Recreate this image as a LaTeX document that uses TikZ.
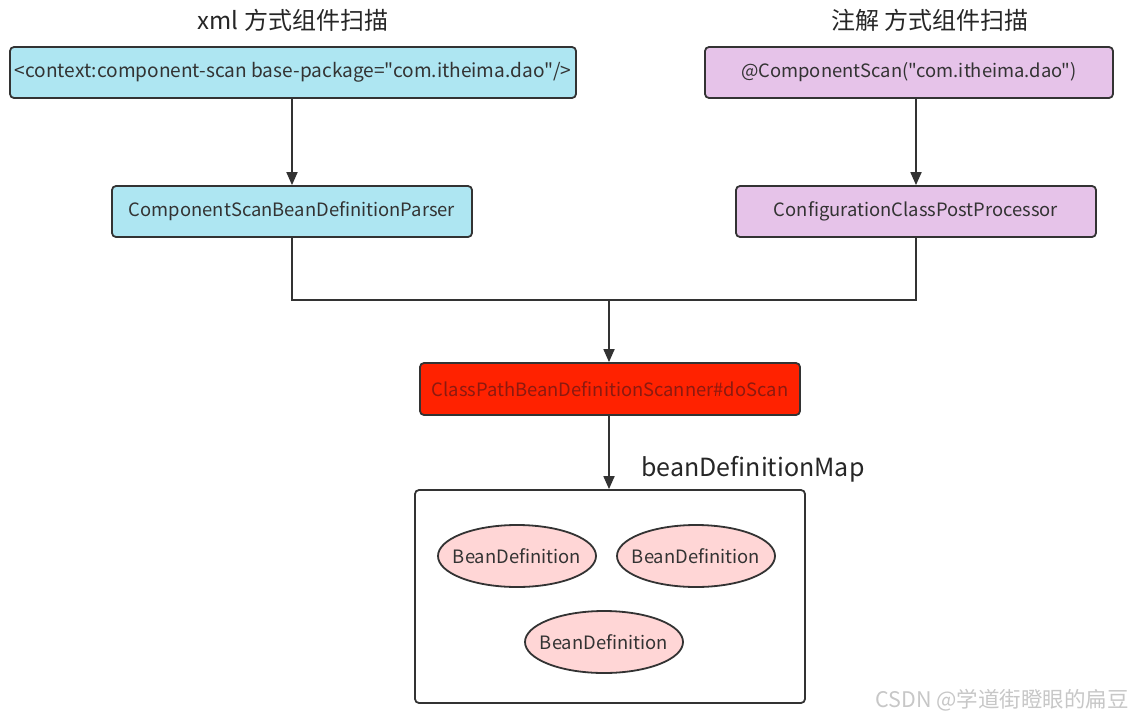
\documentclass[tikz,border=0pt]{standalone}
\usepackage{fontspec}
\newfontfamily\cjk{Noto Sans CJK SC}
\usetikzlibrary{arrows.meta,shapes.geometric}
\definecolor{cyanfill}{HTML}{AEE6F2}
\definecolor{purplefill}{HTML}{E6C3E9}
\definecolor{redfill}{HTML}{FF2200}
\definecolor{redtext}{HTML}{8B1A10}
\definecolor{pinkfill}{HTML}{FFD6D6}
\definecolor{linecol}{HTML}{333333}
\definecolor{textcol}{HTML}{333333}
\newcommand{\beantext}[1]{\makebox[110pt][c]{#1}}
\begin{document}
\begin{tikzpicture}[x=1pt,y=-1pt,
  boxstyle/.style={draw=linecol,line width=1.8pt,rounded corners=4pt,inner sep=0pt,
    text=textcol,font=\cjk\fontsize{18.4}{21}\selectfont},
  beanstyle/.style={ellipse,draw=linecol,line width=1.8pt,fill=pinkfill,minimum width=158pt,
    minimum height=62pt,inner sep=0pt,text=textcol,font=\cjk\fontsize{18.4}{21}\selectfont},
  titlestyle/.style={text=black!85,font=\cjk\fontsize{24}{28}\selectfont},
  conn/.style={draw=linecol,line width=1.8pt},
  arr/.style={conn,-{Triangle[length=13pt,width=11pt]}}
]
\useasboundingbox (0,0) rectangle (1135,720);
\node[titlestyle] (t1) at (293,20) {xml 方式组件扫描};
\node[titlestyle] (t2) at (930,20) {注解 方式组件扫描};

\node[boxstyle,fill=cyanfill,minimum width=566pt,minimum height=51pt,font=\cjk\fontsize{19.1}{22}\selectfont] (b1) at (293,72.5) {<context:component-scan base-package="com.itheima.dao"/>};
\node[boxstyle,fill=purplefill,minimum width=408pt,minimum height=51pt] (b2) at (909,72.5) {@ComponentScan("com.itheima.dao")};
\node[boxstyle,fill=cyanfill,minimum width=360pt,minimum height=51pt] (b3) at (292,211.5) {ComponentScanBeanDefinitionParser};
\node[boxstyle,fill=purplefill,minimum width=360pt,minimum height=51pt] (b4) at (916,211.5) {ConfigurationClassPostProcessor};
\node[boxstyle,fill=redfill,text=redtext,minimum width=380pt,minimum height=52pt] (b5) at (610,389) {ClassPathBeanDefinitionScanner\#doScan};
\node[boxstyle,fill=white,minimum width=390pt,minimum height=213pt] (b6) at (610,596.5) {};
\node[titlestyle,font=\cjk\fontsize{25}{29}\selectfont,anchor=west] (lbl) at (638,469) {beanDefinitionMap};

\node[beanstyle] (e1) at (517,556) {\beantext{BeanDefinition}};
\node[beanstyle] (e2) at (696,556) {\beantext{BeanDefinition}};
\node[beanstyle] (e3) at (604,642) {\beantext{BeanDefinition}};

\coordinate (j) at (609,300);
\draw[arr] (b1.south -| b3.north) -- (b3.north);
\draw[arr] (b2.south -| b4.north) -- (b4.north);
\draw[conn] (b3.south) |- (j) -| (b4.south);
\draw[arr] (j) -- (j |- b5.north);
\draw[arr] (j |- b5.south) -- (j |- b6.north);

\node[text=black!22,font=\cjk\fontsize{21.5}{24}\selectfont] (wm) at (1002,700) {CSDN @学道街瞪眼的扁豆};
\end{tikzpicture}
\end{document}
